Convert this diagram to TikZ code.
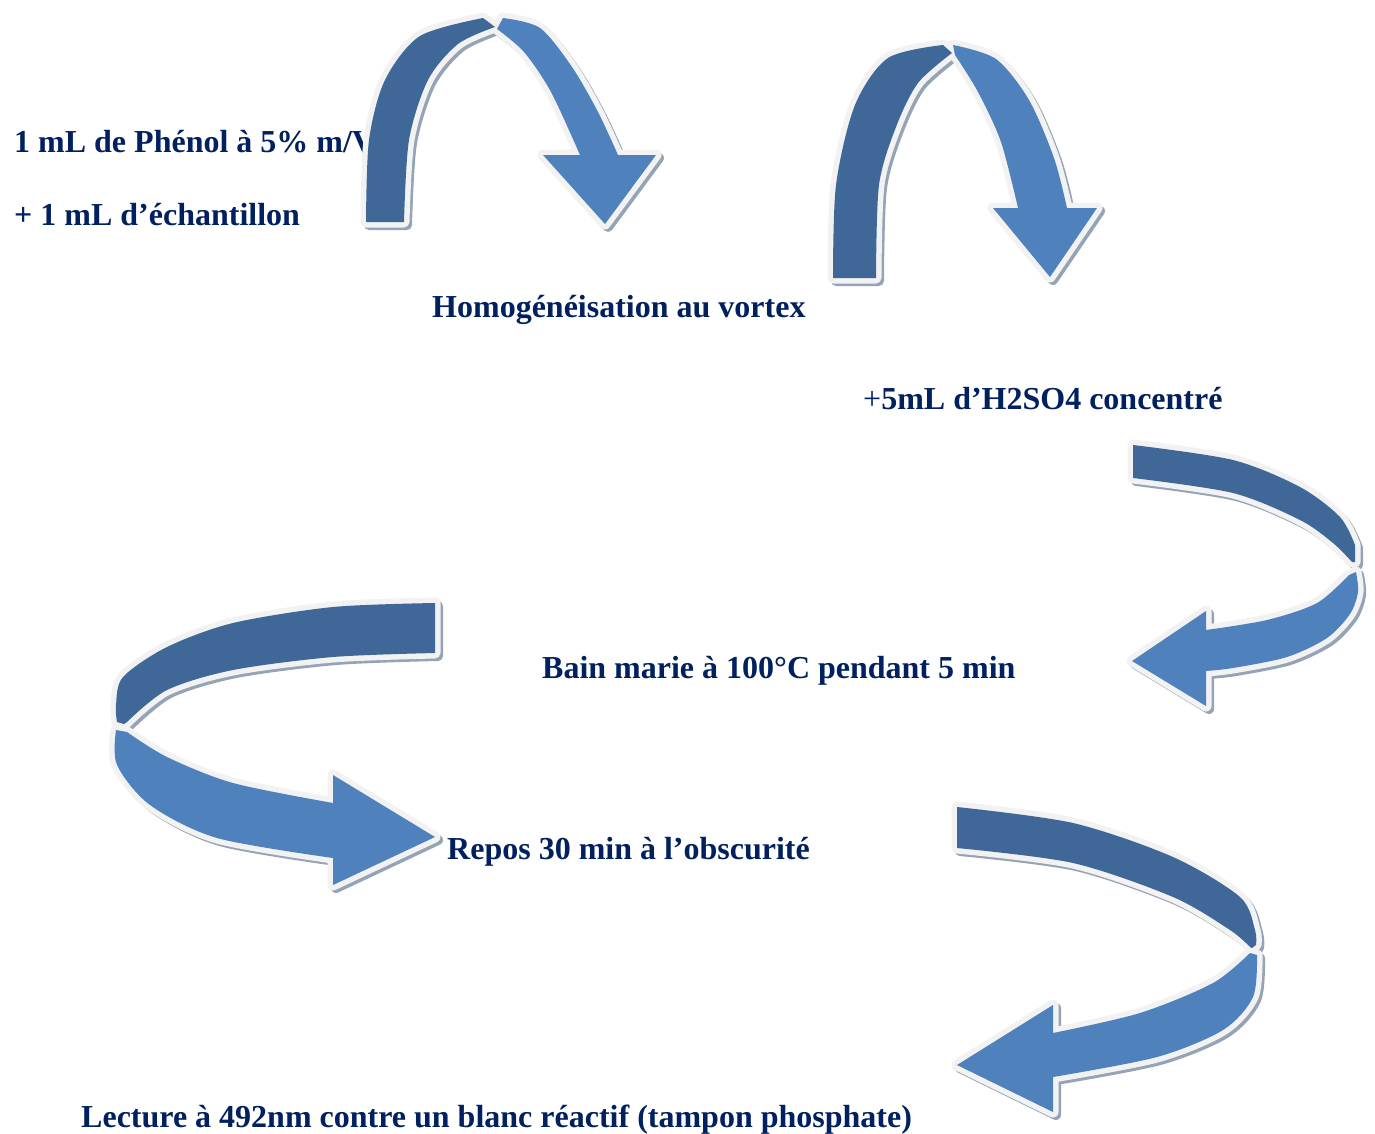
\documentclass[tikz,border=0pt]{standalone}
\usepackage{fontspec}
\setmainfont{Liberation Serif}
\definecolor{txt}{HTML}{002060}
\definecolor{dk}{HTML}{3F6797}
\definecolor{lt}{HTML}{4F81BD}
\definecolor{rim}{HTML}{F2F2F2}
\definecolor{shd}{HTML}{95A3B6}
\newcommand\ribbonpair[2]{%
 \begin{scope}[shift={(3,3)}]
  \filldraw[shd, line width=10pt, line join=round] #1;
  \filldraw[shd, line width=10pt, line join=round] #2;
 \end{scope}
 \draw[rim, line width=11pt, line join=round] #1;
 \draw[rim, line width=11pt, line join=round] #2;
 \fill[dk] #1;
 \fill[lt] #2;
}
\begin{document}
\begin{tikzpicture}[x=1pt,y=-1pt,
  lbl/.style={anchor=base west, inner sep=0pt, text=txt, font=\fontsize{32}{38}\selectfont\bfseries}]
\useasboundingbox (0,0) rectangle (1375,1133);
\fill[white] (0,0) rectangle (1375,1133);

% texts
\node[lbl] (t1) at (14,152) {1 mL de Phénol à 5\% m/V};
\node[lbl] (t2) at (14,225) {+ 1 mL d’échantillon};
\node[lbl] (t3) at (432,317) {Homogénéisation au vortex};
\node[lbl] (t4) at (863,409) {{\mdseries +}5mL d’H2SO4 concentré};
\node[lbl] (t5) at (542,678) {Bain marie à 100°C pendant 5 min};
\node[lbl] (t6) at (447,859) {Repos 30 min à l’obscurité};
\node[lbl] (t7) at (81,1127) {Lecture à 492nm contre un blanc réactif (tampon phosphate)};

% arrow 1
\ribbonpair
 {plot[smooth] coordinates {(366,222) (369,140) (385,80) (420,36) (483,18)} -- (495,27)
  -- plot[smooth] coordinates {(495,27) (458,44) (428,80) (409,140) (404,222)} -- cycle}
 {plot[smooth] coordinates {(503,18) (540,28) (572,67) (598,112) (618,155)} -- (656,155) -- (605,224) -- (543,155)
  -- plot[smooth] coordinates {(580,155) (551,92) (524,52) (497,29)} -- cycle}

% arrow 2
\ribbonpair
 {plot[smooth] coordinates {(833,278) (836,185) (855,105) (888,58) (943,45)} -- (952,53)
  -- plot[smooth] coordinates {(952,53) (918,83) (896,127) (879,185) (876,278)} -- cycle}
 {plot[smooth] coordinates {(953,45) (996,59) (1029,100) (1054,158) (1067,208)} -- (1097,208) -- (1050,277) -- (993,208)
  -- plot[smooth] coordinates {(1018,208) (1001,142) (978,92) (955,55)} -- cycle}

% arrow 3
\ribbonpair
 {plot[smooth] coordinates {(1133,445) (1233,460) (1300,487) (1340,517) (1355,545)} -- (1355,562)
  -- plot[smooth] coordinates {(1352,562) (1333,543) (1300,520) (1233,493) (1133,478)} -- cycle}
 {plot[smooth] coordinates {(1356,572) (1358,592) (1350,614) (1327,638) (1287,657) (1233,668) (1206,671)} -- (1206,706) -- (1132,661) -- (1206,611)
  -- plot[smooth] coordinates {(1206,630) (1267,620) (1317,603) (1349,575)} -- cycle}

% arrow 4
\ribbonpair
 {plot[smooth] coordinates {(435,603) (333,607) (233,623) (167,647) (123,677) (116,705) (117,722)} -- (124,724)
  -- plot[smooth] coordinates {(127,722) (167,690) (233,670) (333,657) (435,653)} -- cycle}
 {plot[smooth] coordinates {(116,730) (117,765) (150,805) (217,838) (333,858)} -- (333,885) -- (435,837) -- (333,775)
  -- plot[smooth] coordinates {(333,803) (233,783) (167,757) (127,732)} -- cycle}

% arrow 5
\ribbonpair
 {plot[smooth] coordinates {(957,807) (1073,823) (1173,857) (1240,897) (1255,930) (1256,945)} -- (1252,948)
  -- plot[smooth] coordinates {(1250,947) (1230,930) (1173,897) (1073,863) (957,848)} -- cycle}
 {plot[smooth] coordinates {(1257,955) (1253,997) (1223,1030) (1157,1057) (1053,1077)} -- (1053,1112) -- (957,1065) -- (1053,1005)
  -- plot[smooth] coordinates {(1053,1033) (1140,1013) (1213,983) (1250,953)} -- cycle}
\end{tikzpicture}
\end{document}
